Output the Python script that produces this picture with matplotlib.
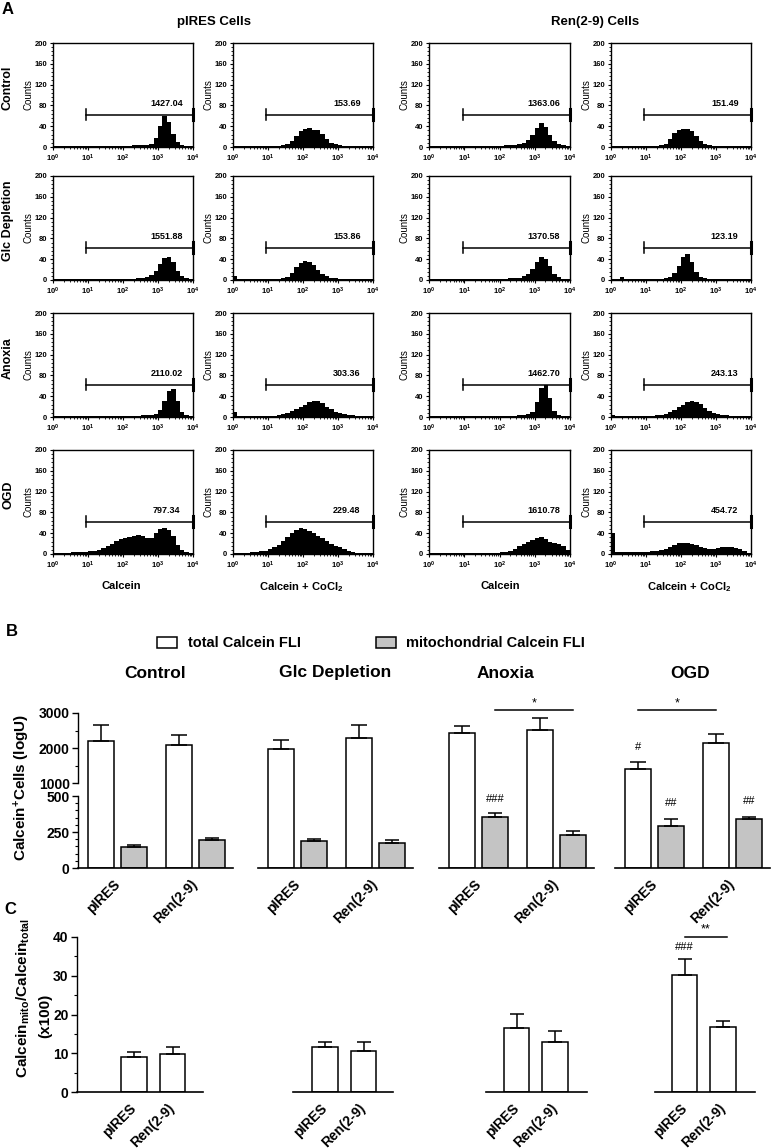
import numpy as np
import matplotlib.pyplot as plt
from matplotlib.patches import Rectangle
from matplotlib.ticker import MultipleLocator, FixedLocator, LogLocator, NullFormatter

plt.rcParams['font.family'] = ['Liberation Sans', 'DejaVu Sans']
plt.rcParams['font.weight'] = 'bold'
plt.rcParams['mathtext.default'] = 'regular'
plt.rcParams['axes.linewidth'] = 1.0

W, H = 771, 1148

# ---------------- panel A: counts per 1/8 decade bin, 10^0 .. 10^4 ----------------
ctrl_pires_cal = [1,1,1,1,1,1,1,1, 1,1,1,1,1,1,2,2, 2,2,3,3,3,4,6,18, 40,60,48,25,10,3,1,1]
ctrl_pires_co  = [1,1,1,1,1,1,1,1, 2,2,2,3,5,12,22,30, 35,36,33,32,25,15,8,5, 3,2,2,1,1,1,1,1]
ctrl_ren_cal   = [1,1,1,1,1,1,1,1, 1,1,1,1,1,1,2,2, 2,3,3,4,5,8,14,24, 36,46,38,24,12,6,3,2]
ctrl_ren_co    = [2,1,1,1,1,1,1,1, 2,2,2,3,6,15,26,32, 34,34,30,22,12,6,3,2, 2,1,1,1,1,1,1,1]

glc_pires_cal = [2,1,2,1,2,1,1,1, 1,1,2,1,2,1,2,2, 2,2,2,3,4,6,10,18, 30,42,44,34,18,8,3,1]
glc_pires_co  = [8,2,2,2,2,2,2,2, 2,2,2,3,6,14,25,33, 36,34,28,20,12,7,4,3, 2,2,2,1,1,1,1,1]
glc_ren_cal   = [1,1,1,1,1,1,1,1, 1,1,1,1,1,2,2,2, 2,2,3,3,4,7,12,22, 34,44,40,26,12,5,2,1]
glc_ren_co    = [1,1,6,1,1,1,1,1, 1,1,1,2,3,6,14,26, 44,50,34,16,6,3,2,1, 1,1,1,1,1,1,1,1]

anox_pires_cal = [1,1,1,1,1,1,1,1, 1,1,1,1,1,1,1,1, 1,2,2,2,3,3,4,6, 14,30,50,54,30,10,3,1]
anox_pires_co  = [10,2,1,1,1,1,1,1, 2,2,3,5,8,11,15,20, 24,28,30,31,26,20,15,10, 7,5,4,3,2,1,1,1]
anox_ren_cal   = [1,1,1,1,1,1,1,1, 1,1,1,1,1,1,1,1, 1,2,2,2,3,3,5,10, 28,55,62,36,12,4,2,1]
anox_ren_co    = [3,1,1,1,1,1,1,1, 2,2,3,4,6,9,14,20, 24,28,30,29,25,18,12,8, 5,4,3,2,2,1,1,1]

ogd_pires_cal = [1,1,2,2,3,3,4,4, 5,6,8,11,15,20,25,28, 30,32,35,36,35,30,30,40, 48,50,46,35,18,8,4,2]
ogd_pires_co  = [1,1,2,2,3,4,5,6, 9,13,18,25,33,40,46,50, 48,44,40,35,30,25,20,16, 13,10,6,4,2,1,1,1]
ogd_ren_cal   = [1,1,1,1,1,1,1,1, 1,1,1,1,1,1,2,2, 3,4,6,10,15,20,24,27, 30,32,28,24,22,20,16,8]
ogd_ren_co    = [40,3,3,3,3,3,3,4, 4,5,6,8,10,14,18,21, 22,22,20,17,14,12,10,10, 12,14,14,13,12,10,5,2]

gate_labels = [['1427.04', '153.69', '1363.06', '151.49'],
               ['1551.88', '153.86', '1370.58', '123.19'],
               ['2110.02', '303.36', '1462.70', '243.13'],
               ['797.34', '229.48', '1610.78', '454.72']]
gate_range = [9, 10000]
gate_level = 62

row_names = ['Control', 'Glc Depletion', 'Anoxia', 'OGD']

# ---------------- panel B ----------------
cell_lines = ['pIRES', 'Ren(2-9)']
total_fli = [[2210, 2080], [1970, 2280], [2420, 2510], [1390, 2130]]
total_err = [[460, 300], [270, 390], [210, 335], [200, 260]]
mito_fli = [[148, 195], [185, 174], [357, 230], [291, 338]]
mito_err = [[12, 11], [17, 18], [28, 30], [52, 19]]

# ---------------- panel C ----------------
ratio = [[9.1, 9.9], [11.5, 10.5], [16.4, 12.9], [30.3, 16.8]]
ratio_err = [[1.1, 1.7], [1.3, 2.3], [3.7, 2.8], [4.0, 1.4]]

grey = '#c4c4c4'

fig = plt.figure(figsize=(W / 100, H / 100), dpi=100)


def box(l, t, r, b):
    return [l / W, 1 - b / H, (r - l) / W, (b - t) / H]


def ftext(x, y, s, **kw):
    fig.text(x / W, 1 - y / H, s, **kw)


# ================= A =================
hists = [[ctrl_pires_cal, ctrl_pires_co, ctrl_ren_cal, ctrl_ren_co],
         [glc_pires_cal, glc_pires_co, glc_ren_cal, glc_ren_co],
         [anox_pires_cal, anox_pires_co, anox_ren_cal, anox_ren_co],
         [ogd_pires_cal, ogd_pires_co, ogd_ren_cal, ogd_ren_co]]
edges = 10 ** (np.arange(33) / 8)
col_x = [(53, 193), (233, 373), (429, 570), (611, 751)]
row_y = [43, 176, 313, 450]

for r in range(4):
    for c in range(4):
        ax = fig.add_axes(box(col_x[c][0], row_y[r], col_x[c][1], row_y[r] + 104))
        ax.stairs(hists[r][c], edges, fill=True, color='black', lw=0)
        ax.set_xscale('log')
        ax.set_xlim(1, 1e4)
        ax.set_ylim(0, 200)
        ax.yaxis.set_major_locator(MultipleLocator(40))
        ax.yaxis.set_minor_locator(MultipleLocator(8))
        ax.set_xticks([1, 10, 100, 1000, 10000])
        ax.set_xticklabels([r'$10^{%d}$' % i for i in range(5)])
        ax.xaxis.set_minor_locator(LogLocator(base=10, subs=np.arange(2, 10)))
        ax.xaxis.set_minor_formatter(NullFormatter())
        ax.tick_params(labelsize=5.5, length=2.5, width=0.8, pad=1.5)
        ax.tick_params(which='minor', length=1.5, width=0.6)
        ax.set_ylabel('Counts', fontsize=7, labelpad=1)
        g0, g1 = gate_range
        ax.plot([g0, g1], [gate_level, gate_level], color='black', lw=1.1, clip_on=False)
        ax.plot([g0, g0], [gate_level - 11, gate_level + 11], color='black', lw=1.1)
        ax.plot([g1, g1], [gate_level - 11, gate_level + 11], color='black', lw=2.2, clip_on=False)
        ax.text(10 ** 3.25, gate_level + 22, gate_labels[r][c], ha='center', va='center', fontsize=6.5)
    ftext(8, row_y[r] + 45, row_names[r], rotation=90, ha='center', va='center', fontsize=9)

ftext(8, 9, 'A', ha='center', va='center', fontsize=12)
ftext(214, 22, 'pIRES Cells', ha='center', va='center', fontsize=9.5)
ftext(595, 22, 'Ren(2-9) Cells', ha='center', va='center', fontsize=9.5)
ftext(121, 586, 'Calcein', ha='center', va='center', fontsize=8)
ftext(301, 587, 'Calcein + CoCl$_2$', ha='center', va='center', fontsize=8)
ftext(500, 586, 'Calcein', ha='center', va='center', fontsize=8)
ftext(689, 587, 'Calcein + CoCl$_2$', ha='center', va='center', fontsize=8)

# ================= B =================
ftext(12, 632, 'B', ha='center', va='center', fontsize=12)
fig.add_artist(Rectangle((157 / W, 1 - 648 / H), 20 / W, 11 / H, transform=fig.transFigure,
                         facecolor='white', edgecolor='black', lw=1.1))
ftext(188, 643, 'total Calcein FLI', ha='left', va='center', fontsize=10.5)
fig.add_artist(Rectangle((376 / W, 1 - 648 / H), 20 / W, 11 / H, transform=fig.transFigure,
                         facecolor=grey, edgecolor='black', lw=1.1))
ftext(406, 643, 'mitochondrial Calcein FLI', ha='left', va='center', fontsize=10.5)

b_left = [78, 258, 439, 615]
b_title_x = [155, 335, 505, 690]
x_pos = np.array([0.0, 2.36])
for g in range(4):
    axu = fig.add_axes(box(b_left[g], 713, b_left[g] + 155, 796))
    axl = fig.add_axes(box(b_left[g], 796, b_left[g] + 155, 868))
    for ax in (axu, axl):
        ax.bar(x_pos, total_fli[g], width=0.8, color='white', edgecolor='black', lw=1.1)
        ax.bar(x_pos + 1, mito_fli[g], width=0.8, color=grey, edgecolor='black', lw=1.1)
        ax.errorbar(x_pos, total_fli[g], yerr=[[0, 0], total_err[g]], fmt='none',
                    ecolor='black', elinewidth=1.1, capsize=6, capthick=1.1)
        ax.errorbar(x_pos + 1, mito_fli[g], yerr=[[0, 0], mito_err[g]], fmt='none',
                    ecolor='black', elinewidth=1.1, capsize=5, capthick=1.1)
        ax.set_xlim(-0.7, 4.0)
        ax.spines['top'].set_visible(False)
        ax.spines['right'].set_visible(False)
        ax.tick_params(labelsize=10, width=1.0, length=4, pad=2)
        ax.tick_params(which='minor', length=2.5, width=0.8)
    axu.set_ylim(629, 3000)
    axl.set_ylim(0, 500)
    axu.spines['bottom'].set_visible(False)
    axu.set_xticks([])
    axl.set_xticks(x_pos + 0.5)
    axl.set_xticklabels(cell_lines, rotation=45, ha='right', va='center',
                        rotation_mode='anchor', fontsize=10)
    axl.tick_params(axis='x', length=0, pad=10)
    axl.spines['bottom'].set_linewidth(1.2)
    if g == 0:
        axu.spines['left'].set_bounds(1000, 3000)
        axu.yaxis.set_major_locator(FixedLocator([1000, 2000, 3000]))
        axu.yaxis.set_minor_locator(FixedLocator([1500, 2500]))
        axl.yaxis.set_major_locator(FixedLocator([0, 250, 500]))
        axl.yaxis.set_minor_locator(MultipleLocator(50))
    else:
        for ax in (axu, axl):
            ax.spines['left'].set_visible(False)
            ax.set_yticks([])
    ftext(b_title_x[g], 673, row_names[g], ha='center', va='center', fontsize=12.5)

    # significance marks
    if g == 2:
        axu.plot([x_pos[0] + 1, x_pos[1] + 1], [3090, 3090], color='black', lw=1.1, clip_on=False)
        axu.text(x_pos.mean() + 1, 3090, '*', ha='center', va='bottom', fontsize=9, fontweight='normal')
        axl.annotate('###', (x_pos[0] + 1, mito_fli[g][0] + mito_err[g][0]), xytext=(0, 10),
                     textcoords='offset points', ha='center', va='center', fontsize=8,
                     fontweight='normal', annotation_clip=False)
    if g == 3:
        axu.plot([x_pos[0], x_pos[1]], [3090, 3090], color='black', lw=1.1, clip_on=False)
        axu.text(x_pos.mean(), 3090, '*', ha='center', va='bottom', fontsize=9, fontweight='normal')
        axu.annotate('#', (x_pos[0], total_fli[g][0] + total_err[g][0]), xytext=(0, 11),
                     textcoords='offset points', ha='center', va='center', fontsize=8,
                     fontweight='normal', annotation_clip=False)
        for k in range(2):
            axl.annotate('##', (x_pos[k] + 1, mito_fli[g][k] + mito_err[g][k]), xytext=(0, 11),
                         textcoords='offset points', ha='center', va='center', fontsize=8,
                         fontweight='normal', annotation_clip=False)

ftext(22, 787, 'Calcein$^{+}$Cells (logU)', rotation=90, ha='center', va='center', fontsize=11)

# ================= C =================
ftext(10, 909, 'C', ha='center', va='center', fontsize=12)
c_left = [77, 293, 486, 655]
c_right = [203, 393, 587, 755]
c_centre = [134, 325, 516.5, 684.5]
for g in range(4):
    ax = fig.add_axes(box(c_left[g], 937, c_right[g], 1092))
    xs = np.arange(2)
    ax.bar(xs, ratio[g], width=0.675, color='white', edgecolor='black', lw=1.1)
    ax.errorbar(xs, ratio[g], yerr=[[0, 0], ratio_err[g]], fmt='none', ecolor='black',
                elinewidth=1.1, capsize=5, capthick=1.1)
    ax.set_xlim((c_left[g] - c_centre[g]) / 38.5, (c_right[g] - c_centre[g]) / 38.5)
    ax.set_ylim(0, 40)
    ax.spines['top'].set_visible(False)
    ax.spines['right'].set_visible(False)
    ax.spines['bottom'].set_linewidth(1.2)
    ax.set_xticks(xs)
    ax.set_xticklabels(cell_lines, rotation=45, ha='right', va='center',
                       rotation_mode='anchor', fontsize=10)
    ax.tick_params(axis='x', length=0, pad=10)
    if g == 0:
        ax.yaxis.set_major_locator(MultipleLocator(10))
        ax.yaxis.set_minor_locator(MultipleLocator(5))
        ax.tick_params(axis='y', labelsize=10, width=1.0, length=4, pad=2)
        ax.tick_params(axis='y', which='minor', length=2.5, width=0.8)
    else:
        ax.spines['left'].set_visible(False)
        ax.set_yticks([])
    if g == 3:
        ax.annotate('###', (0, ratio[g][0] + ratio_err[g][0]), xytext=(0, 9),
                    textcoords='offset points', ha='center', va='center', fontsize=8,
                    fontweight='normal', annotation_clip=False)
        ax.plot([0, 1.1], [40, 40], color='black', lw=1.1, clip_on=False)
        ax.text(0.55, 40.5, '**', ha='center', va='bottom', fontsize=9, fontweight='normal')

ftext(23, 998, 'Calcein$_{mito}$/Calcein$_{total}$', rotation=90, ha='center', va='center', fontsize=11)
ftext(45, 1016, '(x100)', rotation=90, ha='center', va='center', fontsize=11)

fig.savefig('out.png', dpi=100)
